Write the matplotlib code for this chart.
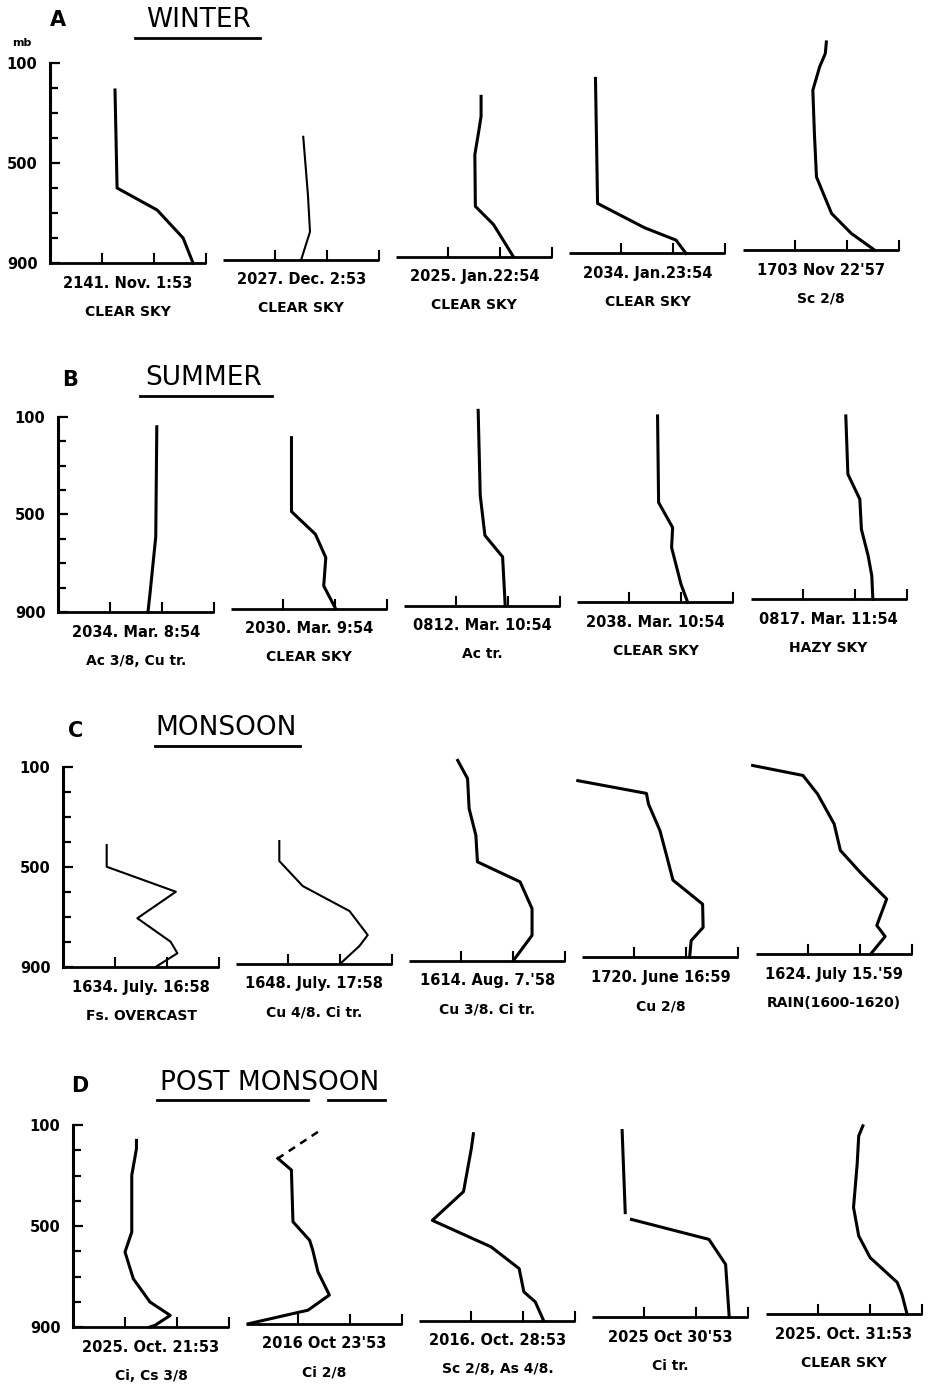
import numpy as np
import matplotlib
matplotlib.use('Agg')
import matplotlib.pyplot as plt
from matplotlib.lines import Line2D
from matplotlib.transforms import ScaledTranslation

plt.rcParams['font.family'] = ['DejaVu Sans']

# ── Profiles: pressure (mb) and value (baseline-tick units) ─────────────────
winter_p = [
    [208, 600, 688, 800, 900],
    [408, 640, 788, 900],
    [259, 339, 405, 492, 699, 772, 900],
    [200, 700, 797, 847, 900],
    [67, 113, 167, 260, 433, 607, 753, 833, 900],
]
winter_x = [
    [1.25, 1.29, 2.06, 2.56, 2.75],
    [1.54, 1.63, 1.67, 1.50],
    [1.63, 1.63, 1.58, 1.51, 1.52, 1.87, 2.25],
    [0.50, 0.54, 1.44, 2.05, 2.24],
    [1.61, 1.59, 1.48, 1.35, 1.38, 1.42, 1.71, 2.09, 2.54],
]
winter_time = ['2141. Nov. 1:53', '2027. Dec. 2:53', '2025. Jan.22:54',
               '2034. Jan.23:54', "1703 Nov 22'57"]
winter_sky = ['CLEAR SKY', 'CLEAR SKY', 'CLEAR SKY', 'CLEAR SKY', 'Sc 2/8']

summer_p = [
    [140, 591, 823, 900],
    [198, 501, 594, 690, 806, 900],
    [99, 448, 612, 700, 900],
    [135, 490, 593, 675, 825, 900],
    [148, 387, 490, 613, 722, 804, 900],
]
summer_x = [
    [1.90, 1.88, 1.77, 1.73],
    [1.16, 1.16, 1.62, 1.82, 1.78, 2.01],
    [1.42, 1.46, 1.55, 1.89, 1.94],
    [1.54, 1.56, 1.83, 1.81, 1.99, 2.12],
    [1.83, 1.87, 2.10, 2.13, 2.26, 2.33, 2.35],
]
summer_time = ['2034. Mar. 8:54', '2030. Mar. 9:54', '0812. Mar. 10:54',
               '2038. Mar. 10:54', '0817. Mar. 11:54']
summer_sky = ['Ac 3/8, Cu tr.', 'CLEAR SKY', 'Ac tr.', 'CLEAR SKY', 'HAZY SKY']

monsoon_p = [
    [412, 499, 599, 705, 799, 845, 900],
    [409, 489, 589, 689, 785, 829, 900],
    [99, 172, 292, 399, 505, 585, 692, 799, 900],
    [193, 244, 287, 393, 487, 591, 687, 780, 833, 900],
    [145, 185, 259, 379, 485, 579, 679, 785, 829, 900],
]
monsoon_x = [
    [0.84, 0.84, 2.17, 1.43, 2.07, 2.20, 1.78],
    [0.83, 0.83, 1.28, 2.18, 2.53, 2.37, 2.00],
    [0.93, 1.12, 1.15, 1.28, 1.31, 2.13, 2.36, 2.36, 2.00],
    [-0.09, 1.23, 1.27, 1.49, 1.61, 1.74, 2.31, 2.32, 2.09, 2.06],
    [-0.06, 0.91, 1.19, 1.51, 1.63, 2.04, 2.52, 2.33, 2.49, 2.21],
]
monsoon_time = ['1634. July. 16:58', '1648. July. 17:58', "1614. Aug. 7.'58",
                '1720. June 16:59', "1624. July 15.'59"]
monsoon_sky = ['Fs. OVERCAST', 'Cu 4/8. Ci tr.', 'Cu 3/8. Ci tr.', 'Cu 2/8',
               'RAIN(1600-1620)']

post_p = [
    [161, 194, 299, 524, 603, 709, 801, 854, 893, 900],
    [245, 291, 496, 569, 608, 694, 786, 846, 900],
    [160, 219, 389, 503, 608, 694, 786, 826, 900],
    [160, 485, np.nan, 512, 591, 690, 900],
    [154, 194, 306, 477, 590, 676, 774, 821, 900],
]
post_x = [
    [1.22, 1.22, 1.13, 1.13, 1.00, 1.16, 1.48, 1.87, 1.58, 1.48],
    [0.61, 0.87, 0.90, 1.22, 1.28, 1.38, 1.60, 1.19, 0.04],
    [1.04, 1.00, 0.85, 0.25, 1.38, 1.92, 2.01, 2.23, 2.39],
    [0.57, 0.63, np.nan, 0.75, 2.24, 2.56, 2.63],
    [1.87, 1.79, 1.76, 1.69, 1.79, 2.01, 2.53, 2.62, 2.72],
]
post_dash_p = [140, 245]          # dashed top of the 2016 Oct 23 sounding
post_dash_x = [1.38, 0.61]
post_time = ['2025. Oct. 21:53', "2016 Oct 23'53", '2016. Oct. 28:53',
             "2025 Oct 30'53", '2025. Oct. 31:53']
post_sky = ['Ci, Cs 3/8', 'Ci 2/8', 'Sc 2/8, As 4/8.', 'Ci tr.', 'CLEAR SKY']

panel_letters = ['A', 'B', 'C', 'D']
panel_titles = ['WINTER', 'SUMMER', 'MONSOON', 'POST MONSOON']

# ─────────────────────────────────────────────────────────────────────────────
W, H = 930, 1384
UNIT = 52.0          # px per baseline tick
COL_STEP = 3.33      # column spacing in tick units
TILT_PX = 3.2        # scanned page: each sub-plot sits a little higher

# per row: y-axis x px, 100 mb px, 900 mb px
row_geom = [(50, 63, 263), (58, 417, 612), (63, 767, 967), (73, 1125, 1327)]
# per row: letter (x, y), title centre (x, y), underline segments, y
head_geom = [
    ((58, 20), (199, 20), [(135, 260)], 38),
    ((70, 380), (204, 378), [(140, 272)], 396),
    ((76, 731), (226, 728), [(155, 300)], 746),
    ((80, 1086), (270, 1083), [(157, 308), (328, 385)], 1100),
]

rows = [
    (winter_p, winter_x, winter_time, winter_sky),
    (summer_p, summer_x, summer_time, summer_sky),
    (monsoon_p, monsoon_x, monsoon_time, monsoon_sky),
    (post_p, post_x, post_time, post_sky),
]
thin = {(0, 1), (2, 0), (2, 1)}

fig = plt.figure(figsize=(W / 100, H / 100), dpi=100)
fig.patch.set_facecolor('white')

P_TOP = 30.0
for r, (pp, xx, times, skies) in enumerate(rows):
    xl, y100, y900 = row_geom[r]
    ppm = (y900 - y100) / 800.0          # px per mb
    top_px = y100 - (100 - P_TOP) * ppm
    right_px = 918
    ax = fig.add_axes([xl / W, 1 - y900 / H, (right_px - xl) / W, (y900 - top_px) / H])
    ax.set_xlim(0, (right_px - xl) / UNIT)
    ax.set_ylim(900, P_TOP)
    ax.patch.set_alpha(0)
    for s in ('top', 'right', 'bottom'):
        ax.spines[s].set_visible(False)
    ax.spines['left'].set_bounds(100, 900)
    ax.spines['left'].set_linewidth(2.2)
    ax.set_xticks([])
    ax.set_yticks([100, 500, 900])
    ax.set_yticks(np.arange(200, 900, 100), minor=True)
    ax.tick_params(axis='y', which='both', direction='in', width=1.6, pad=9)
    ax.tick_params(axis='y', which='major', length=7, labelsize=10.5)
    ax.tick_params(axis='y', which='minor', length=6)
    for lab in ax.get_yticklabels():
        lab.set_fontweight('bold')

    tick_len = 9 / ppm
    for c in range(5):
        off = c * COL_STEP
        tr = ax.transData + ScaledTranslation(0, TILT_PX * c / 100, fig.dpi_scale_trans)
        ax.plot([off, off + 3], [900, 900], color='black', lw=2.0,
                clip_on=False, solid_capstyle='butt', transform=tr)
        for k in (1, 2, 3):
            ax.plot([off + k, off + k], [900, 900 - tick_len], color='black',
                    lw=1.5, clip_on=False, transform=tr)
        lw = 1.5 if (r, c) in thin else 2.2
        ax.plot(np.array(xx[c]) + off, pp[c], color='black', lw=lw,
                clip_on=False, solid_joinstyle='round', transform=tr)
        ax.annotate(times[c], xy=(off + 1.5, 900), xycoords=tr, xytext=(0, -14.5),
                    textcoords='offset points', ha='center', va='center',
                    fontsize=10.5, fontweight='bold')
        ax.annotate(skies[c], xy=(off + 1.5, 900), xycoords=tr, xytext=(0, -35),
                    textcoords='offset points', ha='center', va='center',
                    fontsize=10, fontweight='bold')
    if r == 3:
        tr = ax.transData + ScaledTranslation(0, TILT_PX / 100, fig.dpi_scale_trans)
        ax.plot(np.array(post_dash_x) + COL_STEP, post_dash_p, color='black',
                lw=1.8, ls=(0, (3, 2.5)), clip_on=False, transform=tr)

    (lx, ly), (tx, ty), segs, uy = head_geom[r]
    fig.text(lx / W, 1 - ly / H, panel_letters[r], ha='center', va='center',
             fontsize=15, fontweight='bold')
    fig.text(tx / W, 1 - ty / H, panel_titles[r], ha='center', va='center',
             fontsize=19)
    for a, b in segs:
        fig.add_artist(Line2D([a / W, b / W], [1 - uy / H, 1 - uy / H],
                              color='black', lw=2.0, transform=fig.transFigure))

fig.text(22 / W, 1 - 43 / H, 'mb', ha='center', va='center', fontsize=8,
         fontweight='bold')

fig.savefig('out.png', dpi=100)
